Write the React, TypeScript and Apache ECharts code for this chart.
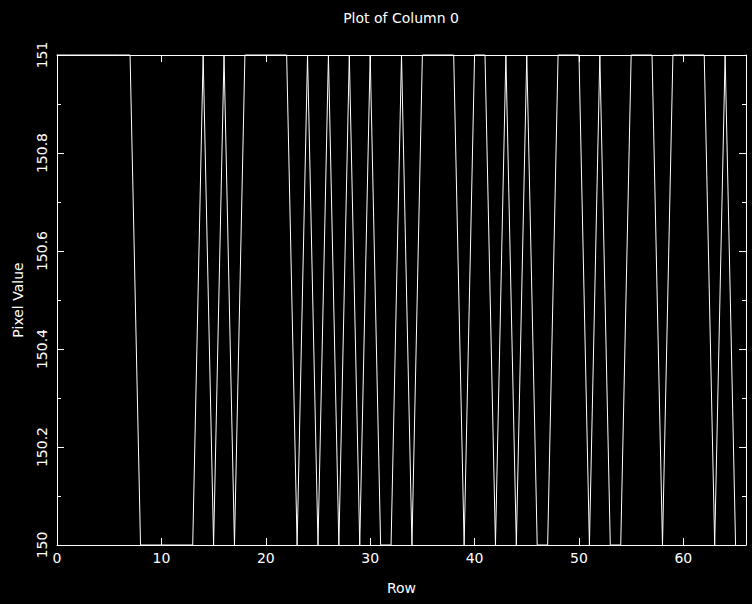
import React, { useEffect, useRef } from "react";
import * as echarts from "echarts";

const rows: number[] = Array.from({ length: 66 }, (_, i) => i);
const pixelValues: number[] = [
  151, 151, 151, 151, 151, 151, 151, 151,
  150, 150, 150, 150, 150, 150,
  151, 150, 151, 150,
  151, 151, 151, 151, 151,
  150, 151, 150, 151, 150, 151, 150, 151, 150, 150, 151, 150,
  151, 151, 151, 151,
  150, 151, 151, 150, 151, 150, 151, 150, 150,
  151, 151, 151,
  150, 151, 150, 150,
  151, 151, 151,
  150,
  151, 151, 151, 151,
  150, 151, 150,
];
const xTicks = { min: 0, max: 66, interval: 10 };
const yTicks = { min: 150, max: 151, interval: 0.2 };

const FONT = "DejaVu Sans";
const WHITE = "#ffffff";

export default function App() {
  const ref = useRef<HTMLDivElement>(null);
  useEffect(() => {
    if (!ref.current) return;
    const chart = echarts.init(ref.current, undefined, { renderer: "svg" });
    const data = rows.map((r, i) => [r, pixelValues[i]]);
    const tickCommon = { show: true, inside: true, length: 7, lineStyle: { color: WHITE, width: 1 } };
    const lineCommon = { show: true, onZero: false, lineStyle: { color: WHITE, width: 1 } };
    chart.setOption({
      animation: false,
      backgroundColor: "#000000",
      grid: { left: 57, right: 6, top: 55, bottom: 59, containLabel: false, outerBoundsMode: "none" },
      graphic: [
        {
          type: "text",
          x: 401,
          y: 18,
          style: {
            text: "Plot of Column 0",
            fill: WHITE,
            font: `14px "${FONT}"`,
            align: "center",
            verticalAlign: "middle",
          },
        },
      ],
      xAxis: [
        {
          type: "value",
          position: "bottom",
          min: xTicks.min,
          max: xTicks.max,
          interval: xTicks.interval,
          name: "Row",
          nameLocation: "middle",
          nameGap: 36,
          nameTextStyle: { color: WHITE, fontFamily: FONT, fontSize: 14 },
          axisLine: lineCommon,
          axisTick: tickCommon,
          axisLabel: { color: WHITE, fontFamily: FONT, fontSize: 14, margin: 6, showMaxLabel: false },
          splitLine: { show: false },
        },
        {
          type: "value",
          position: "top",
          min: xTicks.min,
          max: xTicks.max,
          interval: xTicks.interval,
          axisLine: lineCommon,
          axisTick: tickCommon,
          axisLabel: { show: false },
          splitLine: { show: false },
        },
      ],
      yAxis: [
        {
          type: "value",
          position: "left",
          min: yTicks.min,
          max: yTicks.max,
          interval: yTicks.interval,
          name: "Pixel Value",
          nameLocation: "middle",
          nameGap: 32,
          nameTextStyle: { color: WHITE, fontFamily: FONT, fontSize: 14 },
          axisLine: lineCommon,
          axisTick: tickCommon,
          minorTick: { show: true, splitNumber: 2, length: 4, lineStyle: { color: WHITE, width: 1 } },
          axisLabel: { color: WHITE, fontFamily: FONT, fontSize: 14, margin: 8, rotate: 90 },
          splitLine: { show: false },
          minorSplitLine: { show: false },
        },
        {
          type: "value",
          position: "right",
          min: yTicks.min,
          max: yTicks.max,
          interval: yTicks.interval,
          axisLine: lineCommon,
          axisTick: tickCommon,
          minorTick: { show: true, splitNumber: 2, length: 4, lineStyle: { color: WHITE, width: 1 } },
          axisLabel: { show: false },
          splitLine: { show: false },
          minorSplitLine: { show: false },
        },
      ],
      series: [
        {
          type: "line",
          xAxisIndex: 0,
          yAxisIndex: 0,
          data,
          showSymbol: false,
          symbol: "none",
          lineStyle: { color: WHITE, width: 1 },
          clip: false,
        },
      ],
    });
    return () => chart.dispose();
  }, []);
  return (
    <div
      ref={ref}
      style={{ position: "absolute", left: 0, top: 0, width: 752, height: 604 }}
    />
  );
}
